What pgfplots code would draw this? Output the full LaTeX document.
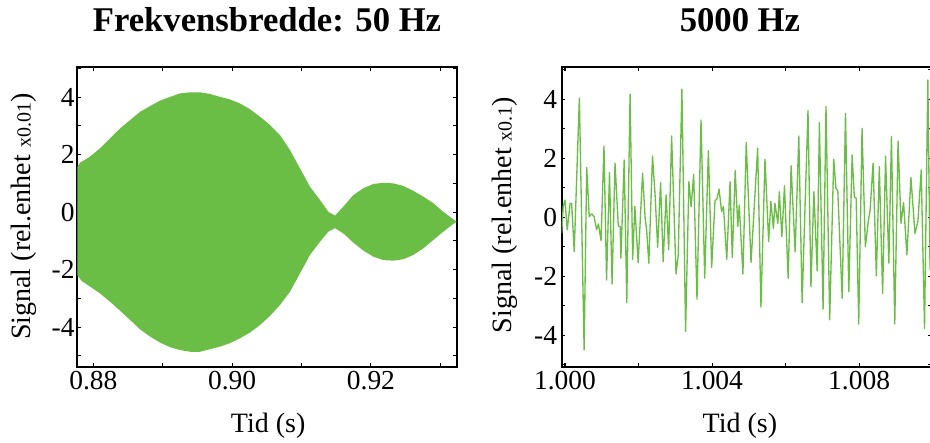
\documentclass[border=0pt]{standalone}
\usepackage{pgfplots}
\pgfplotsset{compat=1.18}
\usepackage{fontspec}
\setmainfont{Liberation Serif}
\definecolor{sig}{RGB}{106,189,69}

\begin{document}
\begin{tikzpicture}
\useasboundingbox (0,0) rectangle (697.5pt,331.5pt);
\pgfplotsset{
  every axis/.append style={
    scale only axis,
    axis line style={line width=1.5pt},
    tick style={black, line width=0.8pt},
    major tick length=2.6pt, minor tick length=2.6pt,
    tick align=inside,
    ticklabel style={font=\fontsize{20.6}{24}\selectfont},
    /pgf/number format/assume math mode=true,
    label style={font=\fontsize{21}{25}\selectfont},
    title style={font=\fontsize{26}{30}\selectfont\bfseries},
    scaled ticks=false,
  }
}
% ---------------- left panel ----------------
\begin{axis}[
  at={(57.975pt,56.475pt)}, anchor=south west,
  width=284.55pt, height=224.55pt,
  xmin=0.87769, xmax=0.93236, ymin=-5.38, ymax=5.04,
  xtick={0.88,0.90,0.92}, minor xtick={0.89,0.91,0.93},
  xticklabel style={/pgf/number format/fixed, /pgf/number format/fixed zerofill, /pgf/number format/precision=2},
  ytick={-4,-2,0,2,4}, minor ytick={-5,-3,-1,1,3,5},
  yticklabel style={xshift=1.5pt},
  title={Frekvensbredde: 50 Hz},
  title style={at={(axis description cs:0.5,1)}, anchor=base, yshift=20.5pt},
  xlabel={Tid (s)},
  xlabel style={at={(axis description cs:0.503,0)}, anchor=base, yshift=-49pt},
  ylabel={Signal (rel.enhet {\fontsize{15}{18}\selectfont x0.01})},
  ylabel style={at={(axis description cs:-0.1405,0.501)}, anchor=center, rotate=0, inner sep=0pt},
]
\addplot[fill=sig, draw=none] coordinates {
(0.87769,1.58) (0.87808,1.72) (0.87952,1.93) (0.88097,2.22) (0.88241,2.57)
(0.88385,2.91) (0.88529,3.20) (0.88673,3.49) (0.88817,3.69) (0.88961,3.88)
(0.89105,4.01) (0.89249,4.13) (0.89393,4.17) (0.89537,4.17) (0.89682,4.11)
(0.89826,4.01) (0.89970,3.92) (0.90114,3.78) (0.90258,3.58) (0.90402,3.32)
(0.90546,3.03) (0.90690,2.68) (0.90834,2.16) (0.90978,1.52) (0.91122,0.88)
(0.91267,0.42) (0.91386,0.01) (0.91483,-0.12) (0.91602,0.19) (0.91746,0.59)
(0.91890,0.83) (0.92035,0.98) (0.92179,1.02) (0.92323,1.00) (0.92467,0.91)
(0.92611,0.74) (0.92755,0.54) (0.92899,0.31) (0.93043,0.01) (0.93187,-0.25)
(0.93236,-0.33)
(0.93187,-0.41) (0.93043,-0.68) (0.92899,-0.97) (0.92755,-1.26) (0.92611,-1.49)
(0.92467,-1.64) (0.92323,-1.69) (0.92179,-1.67) (0.92035,-1.55) (0.91890,-1.34)
(0.91746,-1.06) (0.91602,-0.74) (0.91483,-0.56) (0.91386,-0.68) (0.91267,-1.03)
(0.91122,-1.49) (0.90978,-2.13) (0.90834,-2.77) (0.90690,-3.23) (0.90546,-3.61)
(0.90402,-3.93) (0.90258,-4.19) (0.90114,-4.39) (0.89970,-4.56) (0.89826,-4.68)
(0.89682,-4.77) (0.89537,-4.86) (0.89393,-4.86) (0.89249,-4.80) (0.89105,-4.70)
(0.88961,-4.54) (0.88817,-4.33) (0.88673,-4.08) (0.88529,-3.75) (0.88385,-3.43)
(0.88241,-3.12) (0.88097,-2.83) (0.87952,-2.59) (0.87833,-2.40) (0.87769,-2.20)
} -- cycle;
\end{axis}
% ---------------- right panel ----------------
\begin{axis}[
  at={(421.275pt,56.475pt)}, anchor=south west,
  width=277.35pt, height=224.55pt,
  xmin=0.99991, xmax=1.00997, ymin=-5.07, ymax=5.08,
  xtick={1.000,1.004,1.008}, minor xtick={1.002,1.006},
  xticklabel style={/pgf/number format/fixed, /pgf/number format/fixed zerofill, /pgf/number format/precision=3},
  ytick={-4,-2,0,2,4}, minor ytick={-5,-3,-1,1,3,5},
  title={5000 Hz},
  title style={at={(axis description cs:0.482,1)}, anchor=base, yshift=20.5pt},
  xlabel={Tid (s)},
  xlabel style={at={(axis description cs:0.482,0)}, anchor=base, yshift=-49pt},
  ylabel={Signal (rel.enhet {\fontsize{15}{18}\selectfont x0.1})},
  ylabel style={at={(axis description cs:-0.1533,0.507)}, anchor=center, rotate=0, inner sep=0pt},
]
\addplot[sig, line width=1pt, line join=round] table {
x y
0.99991 -0.55
0.99995 0.36
1.00000 0.58
1.00006 -0.43
1.00014 0.47
1.00018 0.47
1.00025 -1.17
1.00039 4.03
1.00052 -4.50
1.00059 1.68
1.00066 0.02
1.00073 0.11
1.00079 0.02
1.00086 -0.43
1.00091 -0.23
1.00098 -0.80
1.00106 2.41
1.00113 -2.13
1.00121 1.51
1.00128 -2.27
1.00136 1.83
1.00145 -0.30
1.00150 -0.32
1.00152 -1.39
1.00161 1.94
1.00168 -2.90
1.00177 4.17
1.00184 -1.43
1.00190 0.36
1.00199 -1.54
1.00211 1.49
1.00218 -0.04
1.00222 -0.43
1.00228 -1.56
1.00238 2.07
1.00245 0.75
1.00252 -1.02
1.00260 1.17
1.00267 -1.51
1.00275 0.75
1.00282 -1.11
1.00290 2.75
1.00302 -1.93
1.00308 -1.28
1.00318 4.34
1.00328 -3.88
1.00337 1.20
1.00343 0.36
1.00350 1.45
1.00359 -2.78
1.00370 3.29
1.00380 -2.07
1.00390 2.25
1.00399 -1.70
1.00408 0.56
1.00413 0.61
1.00419 0.95
1.00426 0.19
1.00431 0.36
1.00440 -1.43
1.00449 1.20
1.00455 -1.37
1.00463 1.58
1.00470 -0.32
1.00474 0.41
1.00484 -1.93
1.00493 2.53
1.00506 -1.54
1.00524 2.34
1.00533 -3.05
1.00544 1.96
1.00554 -0.83
1.00560 0.53
1.00567 -0.38
1.00571 0.47
1.00579 -0.21
1.00583 0.86
1.00590 -0.66
1.00597 1.06
1.00607 -2.07
1.00615 1.74
1.00626 -1.17
1.00636 2.75
1.00645 -2.90
1.00661 3.61
1.00669 -2.36
1.00677 0.86
1.00686 -1.82
1.00692 3.20
1.00702 -3.12
1.00710 3.75
1.00720 -3.48
1.00731 1.96
1.00737 0.98
1.00742 0.90
1.00754 -2.75
1.00763 3.52
1.00772 -2.53
1.00781 2.11
1.00787 0.69
1.00792 0.64
1.00799 -3.62
1.00808 3.01
1.00817 -1.00
1.00825 -0.15
1.00830 0.24
1.00838 1.83
1.00847 -1.99
1.00855 1.71
1.00864 -2.58
1.00872 2.07
1.00881 -1.56
1.00888 2.73
1.00897 -3.62
1.00906 2.58
1.00914 -0.21
1.00921 0.49
1.00930 -1.28
1.00941 1.34
1.00952 -0.55
1.00960 -0.15
1.00969 1.60
1.00978 -3.77
1.00987 4.65
1.00993 -1.79
};
\end{axis}
\end{tikzpicture}
\end{document}
